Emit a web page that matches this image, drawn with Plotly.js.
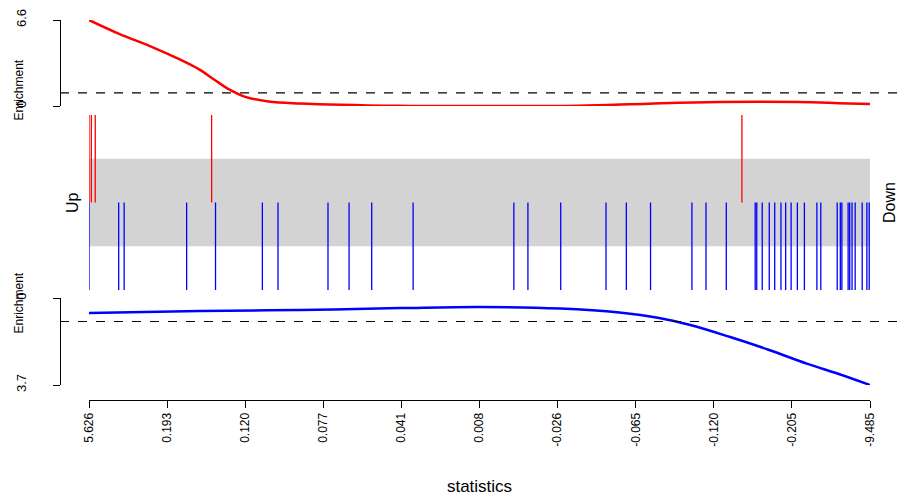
<!DOCTYPE html>
<html>
<head>
<meta charset="utf-8">
<script src="https://cdn.plot.ly/plotly-3.0.1.min.js"></script>
<style>html,body{margin:0;padding:0;background:#fff}#chart{width:899px;height:500px}</style>
</head>
<body>
<div id="chart"></div>
<script>
"use strict";

// rank positions along the ordered statistics (0..1000)
const tickRanks = [0, 100, 200, 300, 400, 500, 600, 700, 800, 900, 1000];
const tickLabels = ["5.626", "0.193", "0.120", "0.077", "0.041", "0.008",
  "-0.026", "-0.065", "-0.120", "-0.205", "-9.485"];

const upRanks = [0, 3, 8, 157, 836];
const downRanks = [0, 38, 45, 125, 162, 222, 242, 306, 333, 362, 415, 544, 562,
  604, 662, 688, 719, 772, 790, 816, 853, 855, 862, 871, 878, 886, 892, 899,
  907, 916, 932, 937, 958, 962, 964, 972, 974, 977, 981, 990, 996, 999];

const upCurveX = [0, 40, 78, 117, 140, 161, 180, 200, 230, 269, 397, 525, 627, 717, 806, 909, 960, 1000];
const upCurveY = [6.6, 5.5, 4.6, 3.55, 2.85, 2.0, 1.25, 0.7, 0.35, 0.2, 0.02, 0, 0.02, 0.18, 0.3, 0.3, 0.22, 0.15];

const downCurveX = [0, 142, 270, 398, 500, 603, 679, 730, 770, 820, 870, 920, 960, 1000];
const downCurveY = [-0.64, -0.55, -0.51, -0.43, -0.38, -0.45, -0.62, -0.85, -1.15, -1.65, -2.2, -2.8, -3.23, -3.7];

function bars(ranks, y0, y1) {
  const x = [], y = [];
  ranks.forEach((r) => { x.push(r, r, null); y.push(y0, y1, null); });
  return { x, y };
}

const up = bars(upRanks, 1, 2);
const down = bars(downRanks, 0, 1);

const traces = [
  { x: upCurveX, y: upCurveY, yaxis: "y2", mode: "lines", line: { color: "#ff0000", width: 2.5, shape: "spline", smoothing: 1 }, hoverinfo: "skip" },
  { x: downCurveX, y: downCurveY, yaxis: "y3", mode: "lines", line: { color: "#0000ff", width: 2.5, shape: "spline", smoothing: 1 }, hoverinfo: "skip" },
  { x: up.x, y: up.y, yaxis: "y4", mode: "lines", line: { color: "#ff0000", width: 1.3 }, hoverinfo: "skip" },
  { x: down.x, y: down.y, yaxis: "y4", mode: "lines", line: { color: "#0000ff", width: 1.3 }, hoverinfo: "skip" },
];

const FONT = "'Liberation Sans', Arial, sans-serif";
const sideAxis = {
  anchor: "free", position: 60 / 899, showline: true, linecolor: "#000",
  ticks: "outside", ticklen: 7, tickcolor: "#000", showgrid: false, zeroline: false,
  tickangle: -90, tickfont: { size: 13, color: "#000" }, ticklabelstandoff: 22,
};

const layout = {
  width: 899, height: 500,
  margin: { l: 0, r: 0, t: 0, b: 100 },
  paper_bgcolor: "#fff", plot_bgcolor: "#fff",
  font: { family: FONT, color: "#000" },
  showlegend: false,
  xaxis: {
    domain: [89 / 899, 870 / 899], range: [0, 1000], anchor: "free", position: 0,
    showline: true, linecolor: "#000", ticks: "outside", ticklen: 7, tickcolor: "#000",
    tickvals: tickRanks, ticktext: tickLabels, tickangle: -90,
    tickfont: { size: 12, color: "#000" }, showgrid: false, zeroline: false,
    title: { text: "statistics", font: { size: 17 }, standoff: 34 },
  },
  yaxis2: { ...sideAxis, domain: [0.735, 0.95], range: [0, 6.6], tickvals: [0, 6.6], ticktext: ["0", "6.6"] },
  yaxis3: { ...sideAxis, domain: [0.0375, 0.255], range: [-3.7, 0], tickvals: [-3.7, 0], ticktext: ["3.7", "0"] },
  yaxis4: { anchor: "x", domain: [0.275, 0.7125], range: [0, 2], visible: false },
  yaxis: { visible: false, domain: [0, 0.01] },
  shapes: [
    { type: "rect", xref: "x", yref: "y4", x0: 0, x1: 1000, y0: 0.5, y1: 1.5, fillcolor: "#d3d3d3", line: { width: 0 }, layer: "below" },
    { type: "line", xref: "paper", yref: "y2", x0: 60 / 899, x1: 1, y0: 1, y1: 1, line: { color: "#000", width: 1.2, dash: "dash" } },
    { type: "line", xref: "paper", yref: "y3", x0: 60 / 899, x1: 1, y0: -1, y1: -1, line: { color: "#000", width: 1.2, dash: "dash" } },
  ],
  annotations: [
    { text: "Enrichment", xref: "paper", yref: "paper", x: 18 / 899, y: (400 - 58) / 400, xanchor: "center", textangle: -90, showarrow: false, font: { size: 12 } },
    { text: "Enrichment", xref: "paper", yref: "paper", x: 18 / 899, y: (400 - 336) / 400, xanchor: "center", textangle: -90, showarrow: false, font: { size: 12 } },
    { text: "Up", xref: "paper", yref: "paper", x: 72 / 899, y: (400 - 203) / 400, xanchor: "center", textangle: -90, showarrow: false, font: { size: 16 } },
    { text: "Down", xref: "paper", yref: "paper", x: 889 / 899, y: (400 - 203) / 400, xanchor: "center", textangle: -90, showarrow: false, font: { size: 16 } },
  ],
};

Plotly.newPlot("chart", traces, layout, { displayModeBar: false, staticPlot: true });
</script>
</body>
</html>
